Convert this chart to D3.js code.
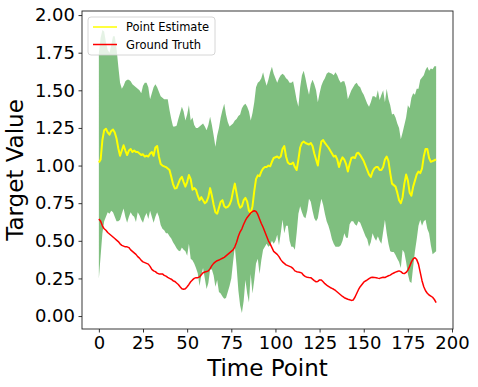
<!DOCTYPE html>
<html lang="en">
<head>
<meta charset="UTF-8">
<title>Point estimate vs ground truth</title>
<script src="https://d3js.org/d3.v7.min.js"></script>
<style>
html, body { margin: 0; padding: 0; background: white; }
body { font-family: 'DejaVu Sans', sans-serif; }
.axis text { font-family: 'DejaVu Sans', sans-serif; font-size: 18px; fill: #000; }
.axis path { stroke: none; }
.axis line { stroke: #000; stroke-width: 0.8px; }
.frame { fill: none; stroke: #222; stroke-width: 0.9px; }
.axis-label { font-family: 'DejaVu Sans', sans-serif; font-size: 23px; fill: #000; }
.legend text { font-family: 'DejaVu Sans', sans-serif; font-size: 11.5px; fill: #000; }
</style>
</head>
<body>
<div id="chart"></div>
<script>

// --------------------------------------
// Data
// --------------------------------------

var timePoints = d3.range(0, 192);

var pointEstimate = [
  1.02, 1.04, 1.17, 1.235, 1.245, 1.22, 1.205, 1.23, 1.24, 1.22,
  1.18, 1.115, 1.065, 1.10, 1.135, 1.10, 1.07, 1.10, 1.11, 1.09,
  1.10, 1.09, 1.09, 1.08, 1.07, 1.075, 1.06, 1.065, 1.06, 1.08,
  1.09, 1.065, 1.12, 1.13, 1.06, 1.01, 1.00, 0.995, 0.99, 0.98,
  0.97, 0.925, 0.877, 0.848, 0.85, 0.88, 0.91, 0.925, 0.89, 0.86,
  0.89, 0.937, 0.91, 0.84, 0.85, 0.84, 0.80, 0.77, 0.79, 0.77,
  0.75, 0.76, 0.79, 0.85, 0.80, 0.74, 0.69, 0.68, 0.72, 0.76,
  0.77, 0.73, 0.72, 0.725, 0.74, 0.77, 0.83, 0.88, 0.815, 0.75,
  0.72, 0.73, 0.77, 0.785, 0.76, 0.70, 0.685, 0.73, 0.83, 0.91,
  0.935, 0.93, 0.96, 0.98, 0.99, 0.99, 1.00, 0.995, 1.025, 1.05,
  1.055, 1.06, 1.05, 1.06, 1.11, 1.13, 1.06, 1.02, 1.01, 1.01,
  1.02, 0.99, 0.97, 1.04, 1.12, 1.15, 1.16, 1.15, 1.145, 1.14,
  1.15, 1.13, 1.08, 1.04, 1.00, 1.09, 1.16, 1.17, 1.15, 1.135,
  1.12, 1.10, 1.08, 1.06, 1.065, 1.04, 0.99, 1.03, 1.055, 1.04,
  1.01, 0.96, 1.01, 1.05, 1.055, 1.05, 1.08, 1.085, 1.07, 1.05,
  1.03, 1.00, 0.97, 0.94, 0.925, 0.96, 0.98, 0.99, 0.99, 0.97,
  0.97, 0.99, 1.04, 1.06, 1.03, 0.95, 0.88, 0.87, 0.86, 0.82,
  0.77, 0.75, 0.79, 0.88, 0.94, 0.90, 0.82, 0.80, 0.86, 0.90,
  0.94, 0.96, 0.95, 0.98, 1.06, 1.11, 1.11, 1.05, 1.025, 1.03,
  1.035, 1.04
];

var upperBound = [
  1.75, 1.85, 1.90, 1.89, 1.82, 1.77, 1.75, 1.80, 1.86, 1.86,
  1.78, 1.66, 1.55, 1.51, 1.53, 1.56, 1.57, 1.57, 1.56, 1.54,
  1.53, 1.52, 1.51, 1.50, 1.48, 1.53, 1.55, 1.55, 1.52, 1.44,
  1.48, 1.52, 1.54, 1.52, 1.49, 1.46, 1.45, 1.44, 1.44, 1.44,
  1.37, 1.31, 1.26, 1.26, 1.265, 1.31, 1.35, 1.39, 1.36, 1.30,
  1.34, 1.40, 1.30, 1.32, 1.27, 1.25, 1.25, 1.26, 1.27, 1.28,
  1.26, 1.235, 1.27, 1.325, 1.27, 1.20, 1.125, 1.20, 1.25, 1.32,
  1.37, 1.41, 1.34, 1.29, 1.26, 1.27, 1.28, 1.30, 1.31, 1.33,
  1.34, 1.38, 1.40, 1.41, 1.39, 1.36, 1.30, 1.35, 1.42, 1.52,
  1.55, 1.56, 1.58, 1.62, 1.57, 1.53, 1.57, 1.62, 1.657, 1.61,
  1.58, 1.55, 1.58, 1.60, 1.61, 1.60, 1.58, 1.57, 1.55, 1.55,
  1.56, 1.50, 1.435, 1.39, 1.52, 1.60, 1.63, 1.58, 1.52, 1.47,
  1.54, 1.57, 1.54, 1.50, 1.42, 1.48, 1.53, 1.56, 1.58, 1.61,
  1.62, 1.615, 1.61, 1.60, 1.62, 1.60, 1.57, 1.55, 1.56, 1.56,
  1.52, 1.44, 1.47, 1.50, 1.52, 1.54, 1.55, 1.53, 1.52, 1.49,
  1.47, 1.44, 1.41, 1.39, 1.42, 1.46, 1.46, 1.45, 1.50, 1.435,
  1.47, 1.50, 1.42, 1.51, 1.44, 1.40, 1.34, 1.345, 1.32, 1.28,
  1.25, 1.175, 1.22, 1.27, 1.32, 1.40, 1.38, 1.45, 1.48, 1.47,
  1.51, 1.51, 1.57, 1.585, 1.60, 1.635, 1.657, 1.63, 1.645, 1.64,
  1.66, 1.66
];

var lowerBound = [
  0.25, 0.40, 0.55, 0.63, 0.66, 0.69, 0.68, 0.70, 0.69, 0.66,
  0.63, 0.63, 0.64, 0.68, 0.715, 0.66, 0.62, 0.66, 0.69, 0.67,
  0.66, 0.625, 0.69, 0.67, 0.64, 0.62, 0.66, 0.685, 0.645, 0.70,
  0.66, 0.62, 0.66, 0.69, 0.66, 0.605, 0.58, 0.57, 0.55, 0.55,
  0.53, 0.516, 0.49, 0.472, 0.45, 0.435, 0.43, 0.455, 0.44, 0.43,
  0.40, 0.48, 0.38, 0.37, 0.35, 0.32, 0.285, 0.20, 0.27, 0.32,
  0.25, 0.18, 0.22, 0.31, 0.31, 0.27, 0.195, 0.24, 0.16, 0.15,
  0.13, 0.115, 0.12, 0.16, 0.20, 0.25, 0.36, 0.46, 0.33, 0.17,
  0.07, 0.02, 0.10, 0.24, 0.15, 0.09, 0.28, 0.15, 0.24, 0.35,
  0.38, 0.28, 0.37, 0.44, 0.46, 0.48, 0.46, 0.47, 0.50, 0.48,
  0.50, 0.54, 0.47, 0.55, 0.64, 0.55, 0.60, 0.60, 0.50, 0.46,
  0.46, 0.44, 0.55, 0.68, 0.73, 0.69, 0.66, 0.65, 0.70, 0.78,
  0.76, 0.70, 0.65, 0.63, 0.65, 0.72, 0.78, 0.74, 0.68, 0.63,
  0.60, 0.56, 0.51, 0.48, 0.46, 0.46, 0.46, 0.47, 0.50, 0.55,
  0.52, 0.52, 0.61, 0.63, 0.63, 0.61, 0.60, 0.63, 0.62, 0.59,
  0.56, 0.53, 0.51, 0.46, 0.49, 0.55, 0.52, 0.50, 0.53, 0.50,
  0.48, 0.56, 0.64, 0.55, 0.48, 0.43, 0.425, 0.425, 0.405, 0.38,
  0.36, 0.32, 0.44, 0.42, 0.36, 0.28, 0.23, 0.22, 0.33, 0.43,
  0.51, 0.60, 0.64, 0.60, 0.63, 0.64, 0.58, 0.55, 0.47, 0.41,
  0.42, 0.43
];

var groundTruth = [
  0.645, 0.63, 0.60, 0.58, 0.57, 0.555, 0.545, 0.535, 0.525, 0.515,
  0.505, 0.495, 0.48, 0.47, 0.465, 0.46, 0.46, 0.455, 0.44, 0.43,
  0.42, 0.41, 0.395, 0.385, 0.37, 0.36, 0.355, 0.35, 0.345, 0.33,
  0.31, 0.30, 0.295, 0.285, 0.28, 0.28, 0.28, 0.27, 0.265, 0.257,
  0.25, 0.245, 0.235, 0.23, 0.22, 0.21, 0.195, 0.182, 0.178, 0.182,
  0.195, 0.21, 0.228, 0.24, 0.25, 0.255, 0.255, 0.26, 0.275, 0.288,
  0.293, 0.296, 0.30, 0.315, 0.335, 0.35, 0.36, 0.368, 0.372, 0.378,
  0.384, 0.39, 0.40, 0.41, 0.42, 0.43, 0.44, 0.46, 0.49, 0.53,
  0.56, 0.58, 0.61, 0.635, 0.655, 0.67, 0.685, 0.695, 0.70, 0.695,
  0.675, 0.645, 0.615, 0.59, 0.56, 0.53, 0.50, 0.48, 0.455, 0.43,
  0.42, 0.41, 0.395, 0.375, 0.36, 0.35, 0.34, 0.335, 0.33, 0.325,
  0.315, 0.30, 0.295, 0.292, 0.29, 0.285, 0.27, 0.262, 0.258, 0.256,
  0.255, 0.245, 0.235, 0.228, 0.23, 0.24, 0.24, 0.228, 0.215, 0.206,
  0.198, 0.19, 0.184, 0.178, 0.17, 0.16, 0.15, 0.14, 0.13, 0.122,
  0.117, 0.112, 0.108, 0.104, 0.106, 0.125, 0.15, 0.175, 0.195, 0.21,
  0.225, 0.233, 0.24, 0.248, 0.256, 0.258, 0.257, 0.255, 0.252, 0.25,
  0.255, 0.258, 0.256, 0.262, 0.268, 0.272, 0.28, 0.286, 0.292, 0.296,
  0.30, 0.295, 0.285, 0.282, 0.29, 0.305, 0.33, 0.36, 0.38, 0.388,
  0.375, 0.345, 0.29, 0.235, 0.195, 0.168, 0.152, 0.14, 0.133, 0.125,
  0.11, 0.09
];

var xTicks = [0, 25, 50, 75, 100, 125, 150, 175, 200];
var yTicks = [0, 0.25, 0.5, 0.75, 1.0, 1.25, 1.5, 1.75, 2.0];
var legendLabels = ["Point Estimate", "Ground Truth"];
var legendColors = ["yellow", "red"];

// --------------------------------------
// Size and margin
// --------------------------------------

var totalWidth = 478;
var totalHeight = 387;
var margin = {top: 11, right: 25, bottom: 58, left: 82};

var svg = d3.select("#chart")
  .append("svg")
  .attr("width", totalWidth)
  .attr("height", totalHeight);

var rows = timePoints.map(function(t, i) {
  return {t: t, mean: pointEstimate[i], lo: lowerBound[i], hi: upperBound[i], truth: groundTruth[i]};
});

// --------------------------------------
// Scales
// --------------------------------------

var xscale = d3.scaleLinear()
  .domain([-9.55, 200.55])
  .range([margin.left, totalWidth - margin.right]);

var yscale = d3.scaleLinear()
  .domain([-0.086, 2.027])
  .range([totalHeight - margin.bottom, margin.top]);

// --------------------------------------
// Band and lines
// --------------------------------------

var band = d3.area()
  .x(function(d) { return xscale(d.t); })
  .y0(function(d) { return yscale(d.lo); })
  .y1(function(d) { return yscale(d.hi); });

var meanLine = d3.line()
  .x(function(d) { return xscale(d.t); })
  .y(function(d) { return yscale(d.mean); });

var truthLine = d3.line()
  .x(function(d) { return xscale(d.t); })
  .y(function(d) { return yscale(d.truth); });

svg.append("path")
  .datum(rows)
  .attr("d", band)
  .style("fill", "green")
  .style("fill-opacity", 0.5)
  .style("stroke", "none");

svg.append("path")
  .datum(rows)
  .attr("d", meanLine)
  .style("fill", "none")
  .style("stroke", "yellow")
  .style("stroke-width", 2)
  .style("stroke-linejoin", "round");

svg.append("path")
  .datum(rows)
  .attr("d", truthLine)
  .style("fill", "none")
  .style("stroke", "red")
  .style("stroke-width", 1.5)
  .style("stroke-linejoin", "round");

// --------------------------------------
// Axes and frame
// --------------------------------------

svg.append("g")
  .attr("class", "axis")
  .attr("transform", "translate(0," + (totalHeight - margin.bottom) + ")")
  .call(d3.axisBottom(xscale).tickValues(xTicks).tickSize(3.5).tickPadding(3.5).tickFormat(d3.format("d")));

svg.append("g")
  .attr("class", "axis")
  .attr("transform", "translate(" + margin.left + ",0)")
  .call(d3.axisLeft(yscale).tickValues(yTicks).tickSize(3.5).tickPadding(3.5).tickFormat(d3.format(".2f")));

svg.append("rect")
  .attr("class", "frame")
  .attr("x", margin.left)
  .attr("y", margin.top)
  .attr("width", totalWidth - margin.right - margin.left)
  .attr("height", totalHeight - margin.bottom - margin.top);

svg.append("text")
  .attr("class", "axis-label")
  .attr("x", (margin.left + totalWidth - margin.right) / 2)
  .attr("y", 376)
  .attr("text-anchor", "middle")
  .text("Time Point");

svg.append("text")
  .attr("class", "axis-label")
  .attr("transform", "translate(23," + ((margin.top + totalHeight - margin.bottom) / 2) + ") rotate(-90)")
  .attr("text-anchor", "middle")
  .text("Target Value");

// --------------------------------------
// Legend
// --------------------------------------

var legend = svg.append("g")
  .attr("class", "legend")
  .attr("transform", "translate(88,17)");

legend.append("rect")
  .attr("width", 127)
  .attr("height", 38)
  .attr("rx", 3)
  .style("fill", "white")
  .style("fill-opacity", 0.8)
  .style("stroke", "#ccc")
  .style("stroke-width", 0.8);

legendLabels.forEach(function(label, i) {
  var y = 10 + i * 17.5;
  legend.append("line")
    .attr("x1", 5).attr("x2", 29)
    .attr("y1", y).attr("y2", y)
    .style("stroke", legendColors[i])
    .style("stroke-width", 1.5);
  legend.append("text")
    .attr("x", 38)
    .attr("y", y + 4)
    .text(label);
});

</script>
</body>
</html>
